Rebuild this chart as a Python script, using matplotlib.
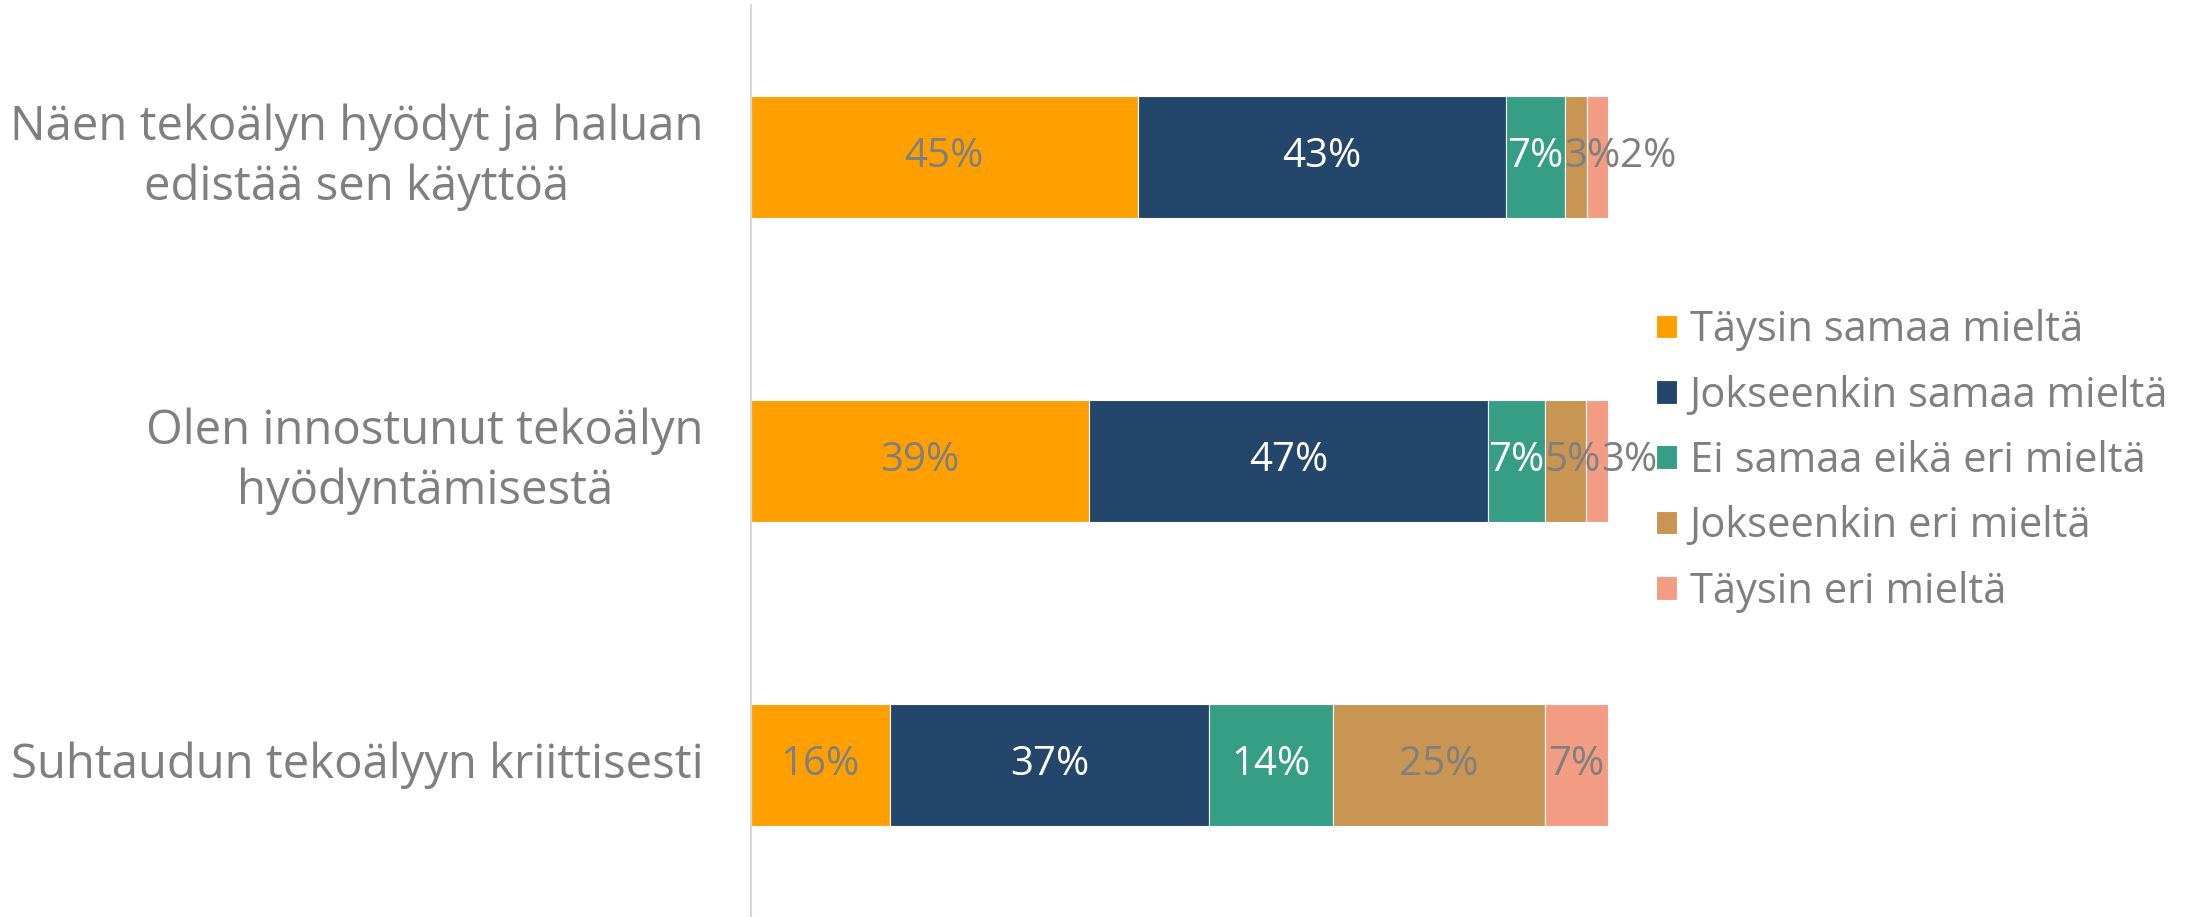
import matplotlib
matplotlib.use("Agg")
import matplotlib.pyplot as plt
import numpy as np

categories = [
    "Näen tekoälyn hyödyt ja haluan\nedistää sen käyttöä",
    "Olen innostunut tekoälyn\nhyödyntämisestä",
    "Suhtaudun tekoälyyn kriittisesti",
]
series_names = [
    "Täysin samaa mieltä",
    "Jokseenkin samaa mieltä",
    "Ei samaa eikä eri mieltä",
    "Jokseenkin eri mieltä",
    "Täysin eri mieltä",
]
# shares (%) per category, in series order
taysin_samaa = [45.1, 39.4, 16.2]
jokseenkin_samaa = [43.0, 46.6, 37.3]
ei_samaa_eika_eri = [6.9, 6.6, 14.4]
jokseenkin_eri = [2.6, 4.8, 24.8]
taysin_eri = [2.4, 2.6, 7.3]

values = [taysin_samaa, jokseenkin_samaa, ei_samaa_eika_eri, jokseenkin_eri, taysin_eri]
colors = ["#FFA000", "#24466B", "#379E86", "#C99552", "#F39C84"]
label_colors = ["#7F7F7F", "white", "white", "#7F7F7F", "#7F7F7F"]

FONT = ["Open Sans", "DejaVu Sans"]
plt.rcParams["font.family"] = FONT
GRAY = "#7F7F7F"
FS_CAT = 34
FS_LEG = 30
FS_LAB = 29

fig = plt.figure(figsize=(21.95, 9.17), dpi=100)
ax = fig.add_axes([751 / 2195, 0.0, (1608 - 751) / 2195, 912 / 917])

y = np.arange(len(categories))
left = np.zeros(len(categories))
row_texts = [[] for _ in categories]
for vals, col, lc, name in zip(values, colors, label_colors, series_names):
    vals = np.array(vals)
    bars = ax.barh(y, vals, left=left, height=0.4, color=col, edgecolor="white",
                   linewidth=0.8, label=name)
    for i, (b, v) in enumerate(zip(bars, vals)):
        t = ax.text(b.get_x() + b.get_width() / 2, b.get_y() + b.get_height() / 2,
                    f"{v:.0f}%", ha="center", va="center", color=lc, fontsize=FS_LAB)
        row_texts[i].append(t)
    left += vals

ax.set_xlim(0, 100)
ax.set_ylim(2.5, -0.5)
ax.set_yticks(y)
ax.set_yticklabels(categories, fontsize=FS_CAT, color=GRAY, multialignment="center",
                   linespacing=1.33, va="center")
ax.tick_params(axis="y", length=0, pad=34)
ax.set_xticks([])
for s in ["top", "right", "bottom"]:
    ax.spines[s].set_visible(False)
ax.spines["left"].set_color("#D9D9D9")
ax.spines["left"].set_linewidth(1.5)

leg = fig.legend(loc="center left", bbox_to_anchor=(1656 / 2195, 1 - 461 / 917),
                 frameon=False, fontsize=FS_LEG, handlelength=0.5, handleheight=0.5,
                 handletextpad=0.31, labelspacing=0.56, borderaxespad=0, borderpad=0)
for t in leg.get_texts():
    t.set_color(GRAY)

# push overlapping data labels to the right (like the original's label layout)
fig.canvas.draw()
renderer = fig.canvas.get_renderer()
inv = ax.transData.inverted()
for texts in row_texts:
    prev_right = -np.inf
    for t in texts:
        bb = t.get_window_extent(renderer)
        shift = 0.0
        if bb.x0 < prev_right:
            shift = prev_right - bb.x0
        if shift > 0:
            x_disp, y_disp = ax.transData.transform(t.get_position())
            nx, ny = inv.transform((x_disp + shift, y_disp))
            t.set_position((nx, t.get_position()[1]))
        prev_right = bb.x1 + shift

fig.savefig("out.png", dpi=100, facecolor="white")
